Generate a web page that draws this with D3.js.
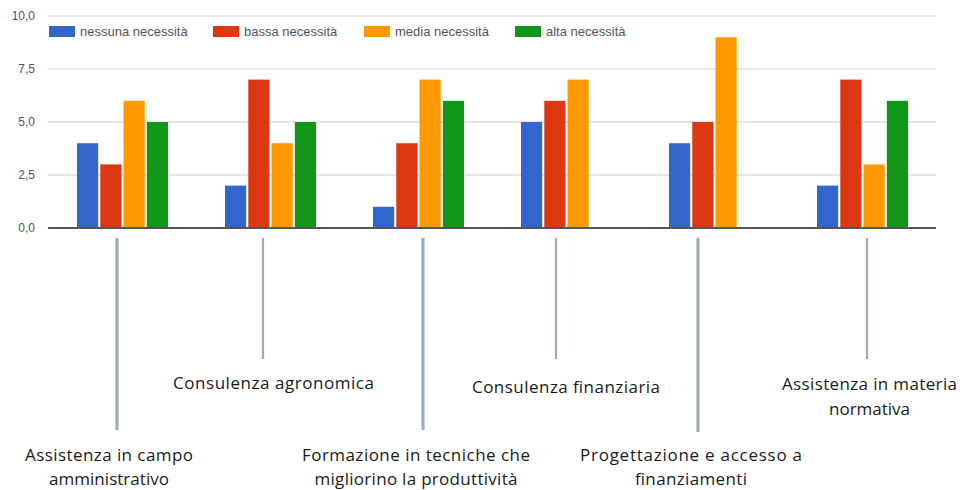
<!DOCTYPE html>
<html>
<head>
<meta charset="utf-8">
<script src="https://cdn.jsdelivr.net/npm/d3@7"></script>
<style>
  html, body { margin: 0; padding: 0; background: #ffffff; }
  svg { display: block; }
</style>
</head>
<body>
<svg id="chart" width="960" height="490"></svg>
<script>
// ---- data ----
const categories = [
  "Assistenza in campo amministrativo",
  "Consulenza agronomica",
  "Formazione in tecniche che migliorino la produttività",
  "Consulenza finanziaria",
  "Progettazione e accesso a finanziamenti",
  "Assistenza in materia normativa"
];
const labelLines = [
  ["Assistenza in campo", "amministrativo"],
  ["Consulenza agronomica"],
  ["Formazione in tecniche che", "migliorino la produttività"],
  ["Consulenza finanziaria"],
  ["Progettazione e accesso a", "finanziamenti"],
  ["Assistenza in materia", "normativa"]
];
const seriesNames = ["nessuna necessità", "bassa necessità", "media necessità", "alta necessità"];
const nessuna = [4, 2, 1, 5, 4, 2];
const bassa   = [3, 7, 4, 6, 5, 7];
const media   = [6, 4, 7, 7, 9, 3];
const alta    = [5, 5, 6, 0, 0, 6];
const yTicks = [0, 2.5, 5, 7.5, 10];
const colors = ["#3366cc", "#dc3912", "#ff9900", "#109618"];

const seriesValues = [nessuna, bassa, media, alta];
const rows = categories.map((c, i) => ({
  cat: c,
  vals: seriesNames.map((s, j) => ({ key: s, value: seriesValues[j][i], color: colors[j] }))
}));

// ---- layout ----
const svg = d3.select("#chart");
const mLeft = 48, mRight = 936, mTop = 16, mBottom = 228;

const x = d3.scaleBand().domain(categories).range([mLeft + 0.5, mRight + 0.5]).paddingInner(0.385).paddingOuter(0.1925);
const xi = d3.scaleBand().domain(seriesNames).range([0, x.bandwidth()]).paddingInner(0.09);
const y = d3.scaleLinear().domain([0, 10]).range([mBottom, mTop]);

// gridlines
svg.append("g").selectAll("line").data(yTicks.filter(t => t > 0)).join("line")
  .attr("x1", mLeft).attr("x2", mRight)
  .attr("y1", d => y(d)).attr("y2", d => y(d))
  .attr("stroke", "#dedede").attr("stroke-width", 1.3);

// y axis labels
const fmt = d => d3.format(".1f")(d).replace(".", ",");
const yAxis = d3.axisLeft(y).tickValues(yTicks).tickFormat(fmt).tickSize(0).tickPadding(0);
const yg = svg.append("g").attr("transform", `translate(${mLeft - 13},0)`).call(yAxis);
yg.select(".domain").remove();
yg.selectAll("text").attr("font-family", "Liberation Sans, Arial, sans-serif")
  .attr("font-size", 12).attr("fill", "#555");

// bars
const groups = svg.append("g").selectAll("g").data(rows).join("g")
  .attr("transform", d => `translate(${x(d.cat)},0)`);
groups.selectAll("rect").data(d => d.vals.filter(v => v.value > 0)).join("rect")
  .attr("x", d => xi(d.key))
  .attr("width", xi.bandwidth())
  .attr("y", d => y(d.value))
  .attr("height", d => y(0) - y(d.value))
  .attr("fill", d => d.color);

// baseline
svg.append("line").attr("x1", mLeft).attr("x2", mRight)
  .attr("y1", y(0)).attr("y2", y(0))
  .attr("stroke", "#555").attr("stroke-width", 2);

// legend
const legendX = [49, 213, 364, 515];
const lg = svg.append("g").selectAll("g").data(seriesNames).join("g")
  .attr("transform", (d, i) => `translate(${legendX[i]},26)`);
lg.append("rect").attr("width", 26).attr("height", 11).attr("fill", (d, i) => colors[i]);
lg.append("text").attr("x", 31).attr("y", 10).text(d => d)
  .attr("font-family", "Liberation Sans, Arial, sans-serif")
  .attr("font-size", 13).attr("fill", "#555");

// connector lines & category labels
const lineOffset = [-5.5, -7.5, 4.5, -10.5, -16.5, 4.5];
const lineEnd = [430, 359, 430, 359, 432, 359];
const lineWidth = [3.2, 2.3, 3.2, 2.3, 3.2, 2.3];
const labelOffset = [-13.5, 3, -2.5, -0.5, -23.5, 7];
const labelY = [455, 383, 455, 387, 455, 384];
const labelGap = [24, 25, 24, 25, 24, 25];
const labelWidths = [
  [168, 120], [201], [228, 203], [188], [222, 112], [175, 81]
];

categories.forEach((c, i) => {
  const cx = x(c) + x.bandwidth() / 2;
  svg.append("line")
    .attr("x1", cx + lineOffset[i]).attr("x2", cx + lineOffset[i])
    .attr("y1", 238).attr("y2", lineEnd[i])
    .attr("stroke", "#9eabb8").attr("stroke-width", lineWidth[i]);
  const t = svg.append("text")
    .attr("text-anchor", "middle")
    .attr("font-family", "'Open Sans', 'Noto Sans', sans-serif")
    .attr("font-size", 17).attr("fill", "#1a1a1a");
  labelLines[i].forEach((ln, k) => {
    t.append("tspan").attr("x", cx + labelOffset[i]).attr("y", labelY[i] + k * labelGap[i] + 6)
      .attr("textLength", labelWidths[i][k]).attr("lengthAdjust", "spacing")
      .text(ln);
  });
});
</script>
</body>
</html>
